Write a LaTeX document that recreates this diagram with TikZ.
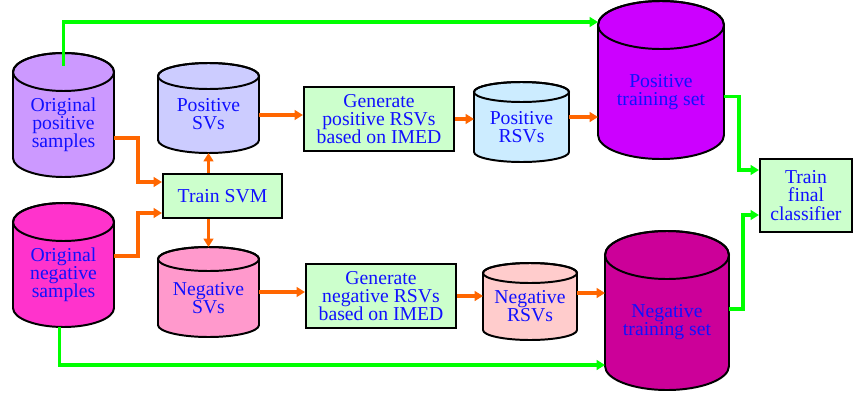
\documentclass[tikz,border=0pt]{standalone}
\usepackage{fontspec}
\setmainfont{Liberation Serif}
\usetikzlibrary{arrows.meta,calc}
\definecolor{opsfill}{HTML}{CC99FF}
\definecolor{onsfill}{HTML}{FF33CC}
\definecolor{psvfill}{HTML}{CCCCFF}
\definecolor{nsvfill}{HTML}{FF99CC}
\definecolor{prsvfill}{HTML}{CCECFF}
\definecolor{nrsvfill}{HTML}{FFCCCC}
\definecolor{ptsfill}{HTML}{CC00FF}
\definecolor{ntsfill}{HTML}{CC0099}
\definecolor{boxfill}{HTML}{CCFFCC}
\definecolor{txtblue}{HTML}{1010FF}
\definecolor{orng}{HTML}{FF6600}
\definecolor{grn}{HTML}{00FF00}
% cylinder: name, left, right, top, bottom, y radius, fill, text (pixels)
\newcommand{\dbdrum}[8]{%
  \pgfmathsetmacro\drx{(#3-#2)/2}
  \pgfmathsetmacro\dcx{(#3+#2)/2}
  \pgfmathsetmacro\dcy{-(#4+#5)/2}
  \pgfmathsetmacro\dyt{-#4-#6}
  \pgfmathsetmacro\dyb{-#5+#6}
  \draw[drumline,fill=#7] (#2,\dyt)--(#2,\dyb) arc[start angle=180,end angle=360,x radius=\drx,y radius=#6]
    --(#3,\dyt) arc[start angle=0,end angle=180,x radius=\drx,y radius=#6]--cycle;
  \draw[drumline] (\dcx,\dyt) ellipse[x radius=\drx,y radius=#6];
  \node[frame,minimum width={(#3-#2)*0.025cm},minimum height={(#5-#4)*0.025cm}] (#1) at (\dcx,\dcy) {};
  \node[lbl] (#1-txt) at ($(#1.center)+(0,-#6/2)$) {#8};
}
\begin{document}
\begin{tikzpicture}[x=0.025cm,y=0.025cm,font=\fontsize{14}{12.9}\selectfont,
	drumline/.style={draw=black,line width=1.4pt},
	frame/.style={inner sep=0pt,outer sep=0pt},
	lbl/.style={align=center,text=txtblue,inner sep=0pt},
	proc/.style={draw=black,line width=1.5pt,fill=boxfill,align=center,text=txtblue,inner sep=0pt},
	oline/.style={draw=orng,line width=2.2pt,-{Triangle[length=6pt,width=7pt]}},
	gline/.style={draw=grn,line width=2.2pt,-{Triangle[length=6pt,width=7pt]}}]
	\useasboundingbox (0,0) rectangle (854,-395);
	% cylinders
	\dbdrum{ops}{13}{114}{53}{177}{19}{opsfill}{Original\\positive\\samples}
	\dbdrum{ons}{13}{114}{203}{327}{19}{onsfill}{Original\\negative\\samples}
	\dbdrum{psv}{158}{259}{63}{153}{13}{psvfill}{Positive\\SVs}
	\dbdrum{nsv}{158}{259}{247}{337}{12}{nsvfill}{Negative\\SVs}
	\dbdrum{prsv}{474}{569}{82}{162}{10}{prsvfill}{Positive\\RSVs}
	\dbdrum{nrsv}{483}{577}{263}{340}{10}{nrsvfill}{Negative\\RSVs}
	\dbdrum{pts}{598}{724}{1}{159}{24}{ptsfill}{Positive\\training set}
	\dbdrum{nts}{605}{729}{231}{390}{24}{ntsfill}{Negative\\training set}
	% boxes
	\node[proc,minimum width=119*0.025cm,minimum height=44*0.025cm] (tsvm) at (222.5,-196) {Train SVM};
	\node[proc,minimum width=150*0.025cm,minimum height=64*0.025cm] (gpos) at (379,-119) {Generate\\positive RSVs\\based on IMED};
	\node[proc,minimum width=150*0.025cm,minimum height=64*0.025cm] (gneg) at (381,-296) {Generate\\negative RSVs\\based on IMED};
	\node[proc,minimum width=92*0.025cm,minimum height=73*0.025cm] (tfc) at (806,-195.5) {Train\\final\\classifier};
	% orange arrows
	\draw[oline] ($(ops.east)+(0,-23)$) -- ++(24,0) |- ($(tsvm.west)+(0,14)$);
	\draw[oline] ($(ons.east)+(0,9)$) -- ++(24,0) |- ($(tsvm.west)+(0,-17)$);
	\draw[oline] (tsvm.north -| psv.south) -- (psv.south);
	\draw[oline] (tsvm.south -| nsv.north) -- (nsv.north);
	\draw[oline] ($(psv.east)+(0,-7)$) coordinate (p1) -- (p1 -| gpos.west);
	\draw[oline] (gpos.east) -- (gpos.east -| prsv.west);
	\draw[oline] ($(prsv.east)+(0,5)$) coordinate (p2) -- (p2 -| pts.west);
	\draw[oline] (nsv.east) -- (nsv.east -| gneg.west);
	\draw[oline] (gneg.east) -- (gneg.east -| nrsv.west);
	\draw[oline] ($(nrsv.east)+(0,8.5)$) coordinate (p3) -- (p3 -| nts.west);
	% green arrows
	\draw[gline] ($(ops.north)+(0,-13)$) |- ($(pts.north west)+(0,-21)$);
	\draw[gline] ($(ons.south)+(-4,0)$) |- ($(nts.south west)+(0,25)$);
	\draw[gline] ($(pts.east)+(0,-16.5)$) -- ++(15,0) |- ($(tfc.west)+(0,25.5)$);
	\draw[gline] ($(nts.east)+(0,1.5)$) -- ++(14,0) |- ($(tfc.west)+(0,-19.5)$);
\end{tikzpicture}
\end{document}
